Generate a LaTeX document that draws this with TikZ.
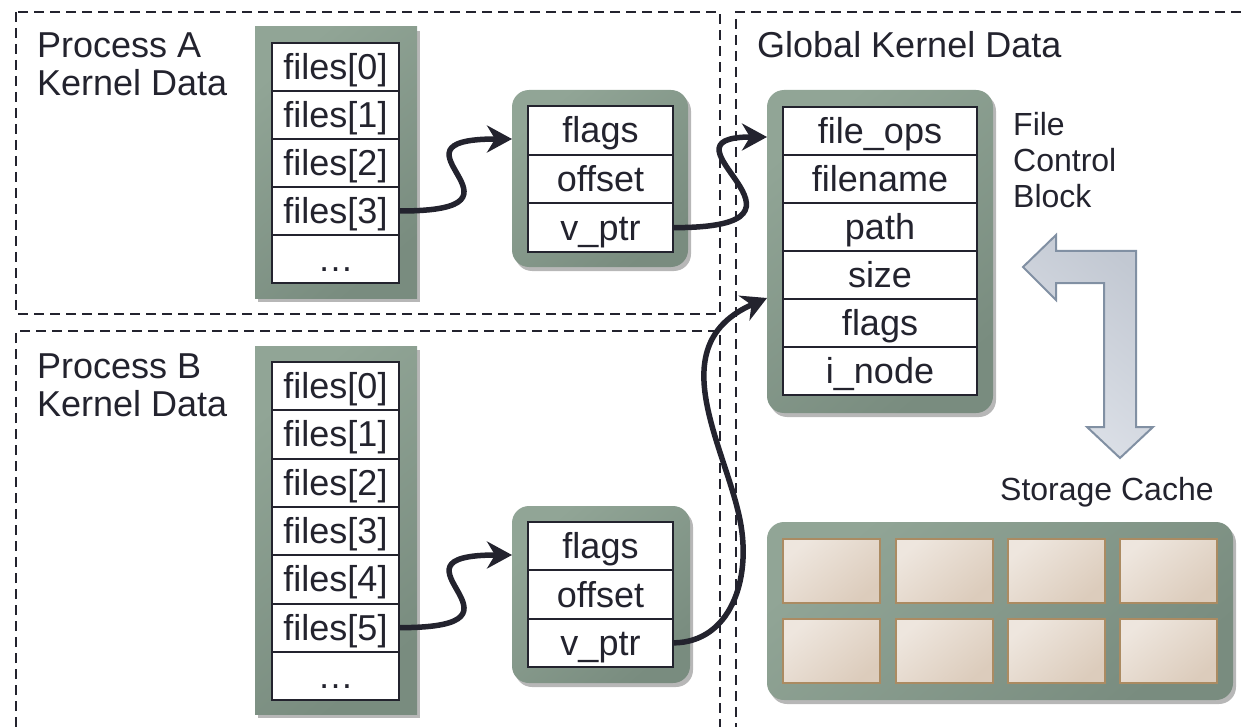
\documentclass[tikz,border=0pt]{standalone}
\usepackage{fontspec}
\setmainfont{Liberation Sans}
\usetikzlibrary{arrows.meta,shadows}
\definecolor{ink}{HTML}{23232E}
\definecolor{gA}{HTML}{91A596}
\definecolor{gB}{HTML}{798C7F}
\definecolor{cA}{HTML}{EEE6DE}
\definecolor{cB}{HTML}{DCCCBC}
\definecolor{cD}{HTML}{AB8B62}
\definecolor{lA}{HTML}{C2C8D2}
\definecolor{lB}{HTML}{DEE2E9}
\definecolor{lD}{HTML}{8190A3}
\tikzset{
  dbox/.style={draw=ink, line width=1.8pt, dash pattern=on 10pt off 6pt},
  gbox/.style={draw=none, top color=gA, bottom color=gB, shading angle=40,
    inner sep=0pt, drop shadow={shadow xshift=3pt, shadow yshift=-4pt, opacity=0.4, fill=black!70}},
  rgbox/.style={gbox, rounded corners=17pt},
  cell/.style={draw=ink, line width=2pt, fill=white, inner sep=0pt, text height=25pt, text depth=0pt,
    font=\fontsize{36}{36}\selectfont, text=ink},
  ccell/.style={draw=cD, line width=2pt, top color=cA, bottom color=cB, shading angle=40,
    minimum width=97pt, minimum height=64pt, inner sep=0pt},
  head/.style={anchor=base west, inner sep=0pt, text=ink, font=\fontsize{36}{36}\selectfont},
  small/.style={anchor=base west, inner sep=0pt, text=ink, font=\fontsize{32}{32}\selectfont},
  link/.style={draw=ink, line width=5.5pt, -{Stealth[length=25pt,width=27pt,inset=8pt]}},
  bigarrow/.style={draw=lD, line width=2pt, top color=lA, bottom color=lB, shading angle=-40}
}
\begin{document}
\begin{tikzpicture}[x=1pt,y=-1pt]
\useasboundingbox (0,0) rectangle (1241,727);
% dashed regions
\draw[dbox] (16,12) rectangle (720,314);
\draw[dbox] (16,727) -- (16,331) -- (720,331) -- (720,727);
\draw[dbox] (1241,12) -- (736,12) -- (736,727);
% headings
\node[head] (pa1) at (37,58) {Process A};
\node[head] (pa2) at (37,96) {Kernel Data};
\node[head] (pb1) at (37,378) {Process B};
\node[head] (pb2) at (37,416) {Kernel Data};
\node[head] (gk) at (757,58) {Global Kernel Data};
\node[small] (fcb1) at (1013,136) {File};
\node[small] (fcb2) at (1013,172) {Control};
\node[small] (fcb3) at (1013,208) {Block};
\node[small] (sc) at (1000,500) {Storage Cache};
% green boxes
\node[gbox, minimum width=162pt, minimum height=271pt] (pag) at (336,162.5) {};
\node[gbox, minimum width=162pt, minimum height=368pt] (pbg) at (336,530) {};
\node[rgbox, minimum width=176pt, minimum height=177pt] (mag) at (600,178.5) {};
\node[rgbox, minimum width=178pt, minimum height=177pt] (mbg) at (601,594.5) {};
\node[rgbox, minimum width=226pt, minimum height=323pt] (fcg) at (880,251.5) {};
\node[rgbox, minimum width=466pt, minimum height=178pt] (scg) at (1000,611) {};
% process A table
\foreach \i/\t in {0/files[0],1/files[1],2/files[2],3/files[3],4/…}
  \node[cell, minimum width=127pt, minimum height=48pt] (a\i) at (335.5,{67+48*\i}) {\t};
% process B table
\foreach \i/\t in {0/files[0],1/files[1],2/files[2],3/files[3],4/files[4],5/files[5],6/…}
  \node[cell, minimum width=127pt, minimum height=48.3pt] (b\i) at (335.5,{386.15+48.3*\i}) {\t};
% middle tables
\foreach \i/\t in {0/flags,1/offset,2/v\_ptr}
  \node[cell, minimum width=145pt, minimum height=48.67pt] (ma\i) at (600.5,{130.3+48.67*\i}) {\t};
\foreach \i/\t in {0/flags,1/offset,2/v\_ptr}
  \node[cell, minimum width=145pt, minimum height=48.33pt] (mb\i) at (600.5,{546.2+48.33*\i}) {\t};
% file control block
\foreach \i/\t in {0/file\_ops,1/filename,2/path,3/size,4/flags,5/i\_node}
  \node[cell, minimum width=194pt, minimum height=48pt] (f\i) at (880,{131+48*\i}) {\t};
% storage cache cells
\foreach \c/\x in {0/831.5,1/944,2/1056,3/1168}
  \foreach \r/\y in {0/571,1/651}
    \node[ccell] (s\c\r) at (\x,\y) {};
% big L arrow
\draw[bigarrow] (1023,267) -- (1056,235) -- (1056,251) -- (1136,251) -- (1136,427) -- (1153,427)
  -- (1120,458) -- (1087,427) -- (1104,427) -- (1104,283) -- (1056,283) -- (1056,300) -- cycle;
% connectors
\coordinate (tA) at (512,139);
\coordinate (tB) at (512,555);
\coordinate (tF1) at (767,137);
\coordinate (tF2) at (767,298);
\coordinate (mid3) at (740,520);
\draw[link] (a3.east) .. controls +(150,0) and +(-140,0) .. (tA);
\draw[link] (b5.east) .. controls +(150,0) and +(-140,0) .. (tB);
\draw[link] (ma2.east) .. controls +(170,0) and +(-120,0) .. (tF1);
\draw[link] (mb2.east) .. controls (730,642) and (752,580) .. (mid3)
  .. controls (725,445) and (660,345) .. (tF2);
\end{tikzpicture}
\end{document}
